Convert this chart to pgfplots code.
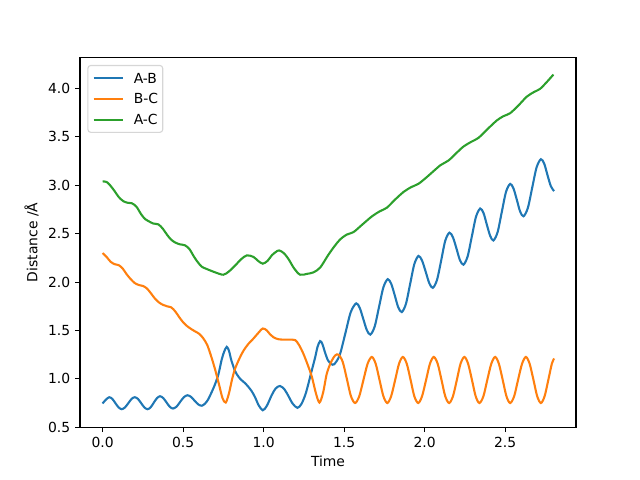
\documentclass[border=0pt]{standalone}
\usepackage{fontspec}
\setmainfont{DejaVu Sans}
\usepackage{pgfplots}
\pgfplotsset{compat=1.18}
\definecolor{tabblue}{RGB}{31,119,180}
\definecolor{taborange}{RGB}{255,127,14}
\definecolor{tabgreen}{RGB}{44,160,44}
\definecolor{legframe}{RGB}{214,214,214}
\begin{document}
\begin{tikzpicture}
\useasboundingbox (0pt,0pt) rectangle (460.8pt,345.6pt);
\begin{axis}[
  at={(57.6pt,38.016pt)}, anchor=south west,
  scale only axis, width=357.12pt, height=266.112pt,
  xmin=-0.14, xmax=2.94, ymin=0.50, ymax=4.32,
  xtick={0,0.5,1,1.5,2,2.5}, ytick={0.5,1,1.5,2,2.5,3,3.5,4},
  tick pos=left, tick align=outside, major tick length=3.5pt,
  every tick/.style={black, line width=0.8pt},
  axis line style={line width=0.8pt},
  /pgf/number format/assume math mode=true,
  /pgf/number format/fixed, /pgf/number format/fixed zerofill, /pgf/number format/precision=1,
  tick label style={font=\fontsize{10pt}{12pt}\selectfont},
  label style={font=\fontsize{10pt}{12pt}\selectfont},
  xlabel={Time}, ylabel={Distance /Å},
  every axis x label/.style={at={(axis description cs:0.5,-0.1069)}, anchor=base},
  every axis y label/.style={at={(axis description cs:-0.0861,0.5)}, rotate=90, anchor=base},
  legend cell align=left,
  legend image code/.code={\draw[#1] (0pt,0pt) -- (20.9pt,0pt);},
  legend style={at={(0,1)}, anchor=north west, xshift=5.3pt, yshift=-5.3pt,
    draw=legframe, fill=white, rounded corners=2pt, line width=0.8pt,
    inner xsep=3.4pt, inner ysep=5.3pt, column sep=7.2pt, row sep=7.8pt,
    nodes={inner sep=0pt, text height=7.3pt, text depth=0pt},
    font=\fontsize{10pt}{12pt}\selectfont},
  every axis plot/.append style={line width=1.5pt, no markers},
]
\addplot[tabblue, smooth] coordinates {
(0.000,0.745)(0.021,0.785)(0.042,0.810)(0.061,0.792)(0.080,0.748)(0.100,0.704)(0.119,0.686)(0.139,0.704)(0.160,0.748)(0.180,0.792)(0.200,0.810)(0.220,0.792)(0.240,0.748)(0.260,0.704)(0.280,0.686)(0.299,0.706)(0.318,0.753)(0.338,0.800)(0.357,0.820)(0.377,0.801)(0.397,0.757)(0.417,0.712)(0.437,0.693)(0.460,0.713)(0.482,0.762)(0.505,0.810)(0.527,0.830)(0.549,0.814)(0.571,0.775)(0.594,0.736)(0.616,0.722)
(0.637,0.745)(0.655,0.785)(0.670,0.835)(0.685,0.890)(0.700,0.950)(0.720,1.050)(0.740,1.200)(0.755,1.280)(0.771,1.330)(0.785,1.290)(0.800,1.190)(0.823,1.080)(0.845,1.020)(0.864,0.985)(0.885,0.955)(0.906,0.916)(0.927,0.870)(0.947,0.810)(0.970,0.725)(0.995,0.675)(1.020,0.720)(1.050,0.830)(1.075,0.900)(1.102,0.926)(1.130,0.890)(1.155,0.820)(1.180,0.745)(1.210,0.700)(1.235,0.740)(1.260,0.840)(1.280,0.960)(1.295,1.060)(1.320,1.220)(1.335,1.330)(1.351,1.390)(1.365,1.360)(1.382,1.270)(1.400,1.190)(1.420,1.155)(1.438,1.150)
(1.472,1.242)(1.507,1.465)(1.541,1.688)(1.575,1.780)(1.597,1.733)(1.619,1.619)(1.641,1.504)(1.663,1.457)(1.690,1.541)(1.717,1.744)(1.744,1.946)(1.771,2.030)(1.793,1.980)(1.815,1.860)(1.836,1.740)(1.858,1.690)(1.884,1.775)(1.910,1.980)(1.936,2.185)(1.962,2.270)(1.984,2.222)(2.007,2.105)(2.029,1.988)(2.051,1.940)(2.077,2.023)(2.103,2.225)(2.128,2.427)(2.154,2.510)(2.176,2.462)(2.198,2.345)(2.219,2.228)(2.241,2.180)(2.267,2.265)(2.293,2.470)(2.319,2.675)(2.345,2.760)(2.366,2.712)(2.386,2.595)(2.407,2.478)(2.427,2.430)(2.453,2.515)(2.479,2.723)(2.505,2.930)(2.531,3.015)(2.552,2.966)(2.573,2.848)(2.593,2.729)(2.614,2.680)(2.641,2.766)(2.668,2.975)(2.695,3.184)(2.722,3.270)(2.743,3.222)(2.763,3.105)(2.784,2.990)(2.804,2.940)
};
\addlegendentry{A-B}
\addplot[taborange, smooth] coordinates {
(0.000,2.300)(0.025,2.260)(0.050,2.210)(0.075,2.185)(0.100,2.175)(0.125,2.140)(0.150,2.080)(0.175,2.030)(0.200,1.990)(0.225,1.970)(0.250,1.960)(0.275,1.935)(0.300,1.885)(0.325,1.830)(0.350,1.790)(0.375,1.765)(0.400,1.750)(0.425,1.740)(0.450,1.700)(0.475,1.640)(0.500,1.585)(0.525,1.545)(0.550,1.515)(0.575,1.490)(0.600,1.465)(0.625,1.420)(0.650,1.350)(0.675,1.230)(0.700,1.090)(0.725,0.930)(0.745,0.800)(0.765,0.755)(0.785,0.850)(0.805,1.000)(0.823,1.105)(0.850,1.210)(0.875,1.290)(0.905,1.360)(0.937,1.416)(0.965,1.470)(0.995,1.520)(1.020,1.500)(1.040,1.460)(1.061,1.430)(1.090,1.410)(1.123,1.405)(1.160,1.405)(1.196,1.400)(1.220,1.350)(1.247,1.260)(1.275,1.140)(1.300,1.020)(1.325,0.850)(1.347,0.755)(1.370,0.860)(1.392,1.050)(1.418,1.170)(1.444,1.240)(1.465,1.250)
(1.491,1.177)(1.517,1.000)(1.542,0.823)(1.568,0.750)(1.594,0.820)(1.620,0.988)(1.646,1.156)(1.672,1.226)(1.696,1.156)(1.720,0.988)(1.744,0.820)(1.768,0.750)(1.792,0.820)(1.817,0.988)(1.841,1.156)(1.865,1.226)(1.889,1.156)(1.913,0.988)(1.936,0.820)(1.960,0.750)(1.984,0.820)(2.009,0.988)(2.033,1.156)(2.057,1.226)(2.081,1.156)(2.105,0.988)(2.128,0.820)(2.152,0.750)(2.176,0.820)(2.200,0.988)(2.223,1.156)(2.247,1.226)(2.270,1.156)(2.294,0.988)(2.317,0.820)(2.340,0.750)(2.365,0.820)(2.389,0.988)(2.414,1.156)(2.438,1.226)(2.461,1.156)(2.485,0.988)(2.508,0.820)(2.531,0.750)(2.556,0.820)(2.580,0.988)(2.605,1.156)(2.629,1.226)(2.652,1.156)(2.676,0.988)(2.699,0.820)(2.722,0.750)(2.745,0.820)(2.768,0.988)(2.790,1.156)(2.804,1.210)
};
\addlegendentry{B-C}
\addplot[tabgreen, smooth] coordinates {
(0.000,3.040)(0.025,3.035)(0.047,3.000)(0.075,2.940)(0.100,2.880)(0.129,2.836)(0.155,2.820)(0.181,2.815)(0.210,2.780)(0.240,2.700)(0.265,2.650)(0.285,2.630)(0.315,2.605)(0.347,2.596)(0.375,2.550)(0.400,2.490)(0.425,2.440)(0.450,2.410)(0.480,2.390)(0.512,2.380)(0.540,2.340)(0.565,2.270)(0.585,2.220)(0.615,2.160)(0.647,2.135)(0.700,2.100)(0.750,2.076)(0.785,2.110)(0.823,2.170)(0.860,2.235)(0.896,2.276)(0.937,2.260)(0.965,2.220)(0.995,2.190)(1.025,2.220)(1.051,2.276)(1.075,2.310)(1.096,2.327)(1.125,2.300)(1.154,2.240)(1.190,2.140)(1.227,2.076)(1.270,2.085)(1.309,2.100)(1.351,2.149)(1.400,2.276)(1.440,2.370)(1.475,2.440)(1.515,2.490)(1.558,2.516)(1.610,2.590)(1.672,2.678)(1.720,2.730)(1.765,2.768)(1.815,2.850)(1.868,2.930)(1.915,2.980)(1.962,3.016)(2.010,3.080)(2.055,3.146)(2.100,3.210)(2.148,3.256)(2.195,3.330)(2.241,3.400)(2.290,3.450)(2.334,3.490)(2.390,3.580)(2.448,3.670)(2.490,3.715)(2.531,3.745)(2.585,3.830)(2.635,3.917)(2.680,3.965)(2.717,3.997)(2.760,4.070)(2.800,4.145)
};
\addlegendentry{A-C}
\end{axis}
\end{tikzpicture}
\end{document}
